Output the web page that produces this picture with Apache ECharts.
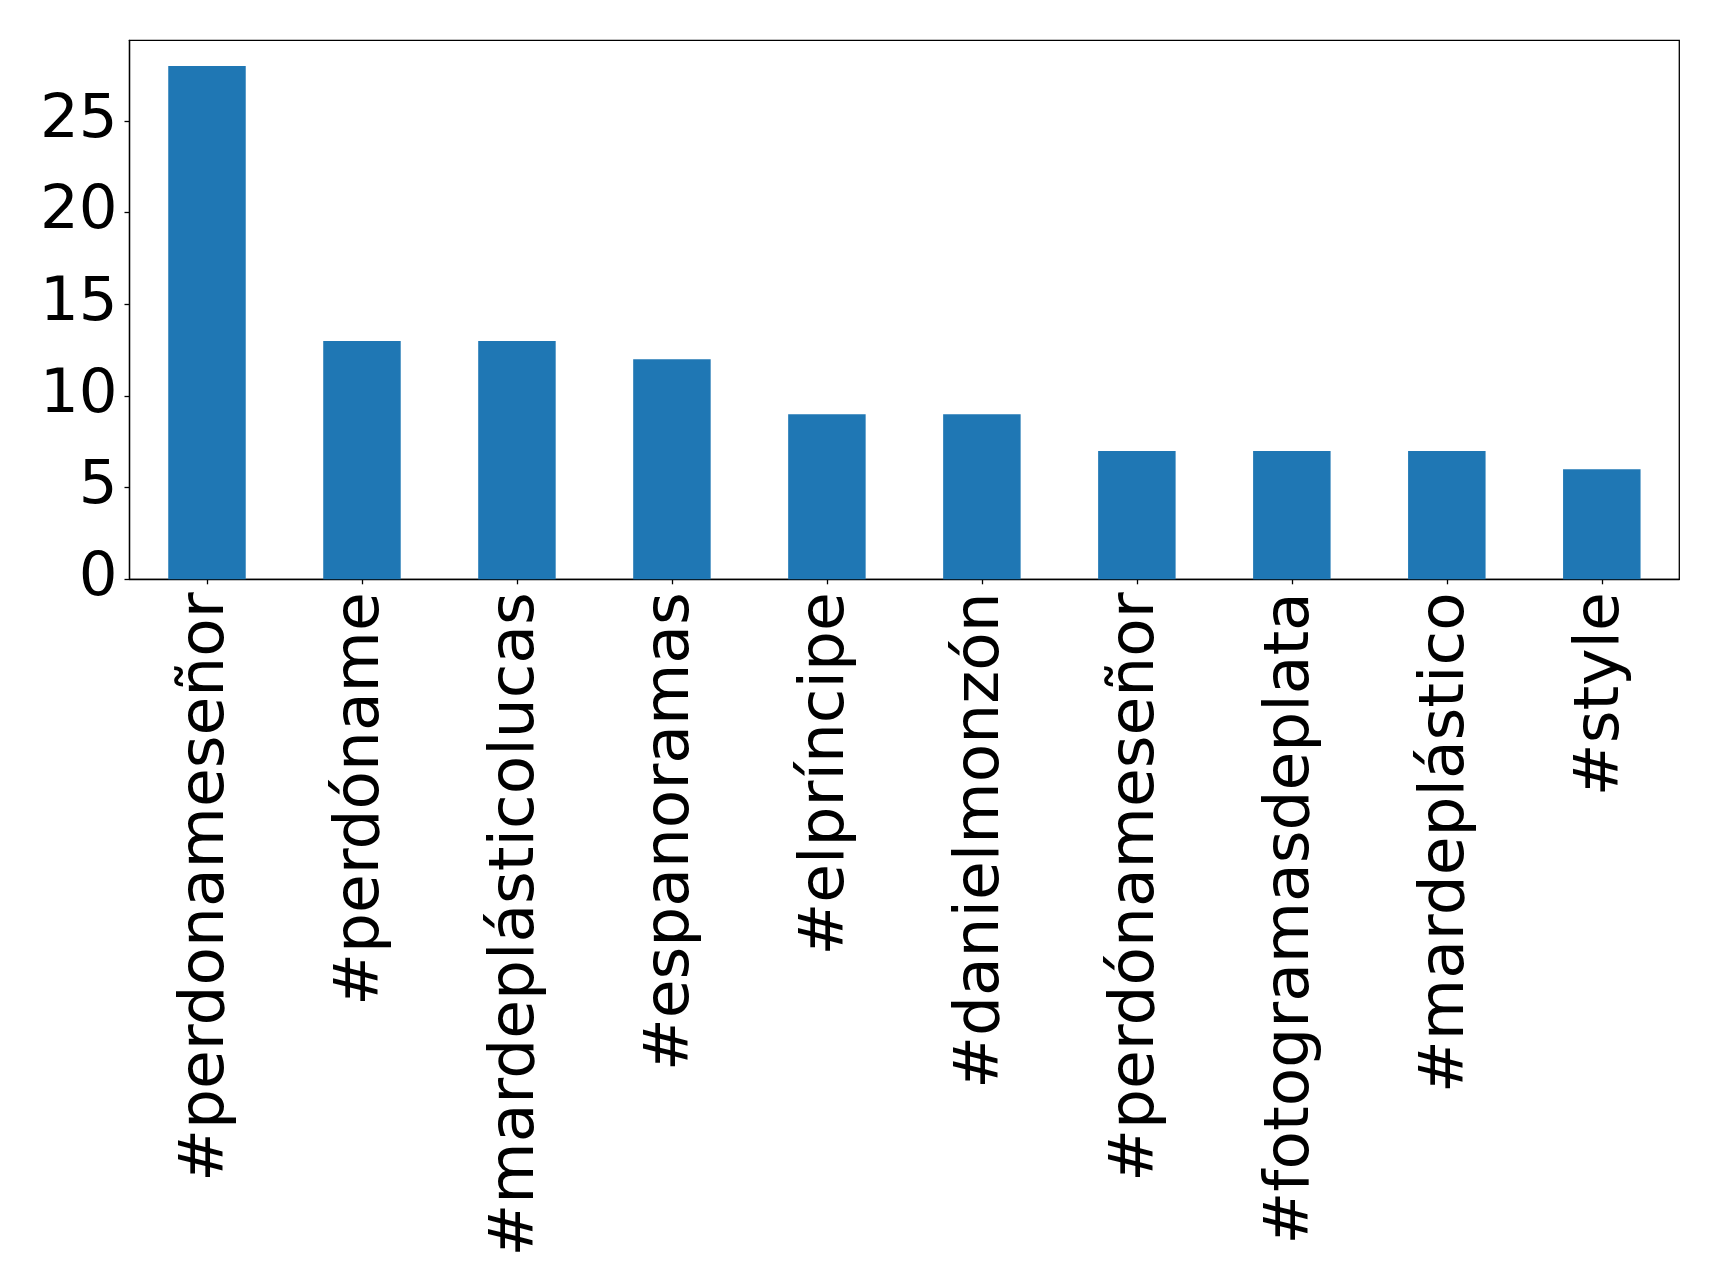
<!DOCTYPE html>
<html>
<head>
<meta charset="utf-8">
<script src="https://cdn.jsdelivr.net/npm/echarts@6/dist/echarts.min.js"></script>
<style>
html,body{margin:0;padding:0;background:#fff;}
#chart{width:1719px;height:1287px;}
</style>
</head>
<body>
<div id="chart"></div>
<script>
const categories = ['#perdonameseñor', '#perdóname', '#mardeplásticolucas', '#espanoramas', '#elpríncipe', '#danielmonzón', '#perdónameseñor', '#fotogramasdeplata', '#mardeplástico', '#style'];
const counts = [28, 13, 13, 12, 9, 9, 7, 7, 7, 6];
const yTicks = [0, 5, 10, 15, 20, 25];

const chart = echarts.init(document.getElementById('chart'));
chart.setOption({
  animation: false,
  backgroundColor: '#fff',
  grid: {
    left: 129.5, right: 39.7, top: 40.3, bottom: 707.7,
    show: true, borderColor: '#000', borderWidth: 1.3, backgroundColor: 'transparent'
  },
  xAxis: {
    type: 'category',
    data: categories,
    axisLine: {show: true, lineStyle: {color: '#000', width: 1.3}},
    axisTick: {show: true, alignWithLabel: true, length: 5, lineStyle: {color: '#000', width: 1.3}},
    axisLabel: {
      rotate: 90, margin: 13, interval: 0,
      fontFamily: 'DejaVu Sans', fontSize: 63, color: '#000'
    },
    splitLine: {show: false}
  },
  yAxis: {
    type: 'value',
    min: 0, max: 29.4, interval: 5,
    axisLine: {show: true, lineStyle: {color: '#000', width: 1.3}},
    axisTick: {show: true, length: 5, lineStyle: {color: '#000', width: 1.3}},
    axisLabel: {
      margin: 12, showMaxLabel: false,
      fontFamily: 'DejaVu Sans', fontSize: 61, color: '#000',
      formatter: function (v) { return yTicks.indexOf(v) >= 0 ? String(v) : ''; }
    },
    splitLine: {show: false}
  },
  series: [{
    type: 'bar',
    data: counts,
    barWidth: '50%',
    itemStyle: {color: '#1f77b4'}
  }]
});
</script>
</body>
</html>
